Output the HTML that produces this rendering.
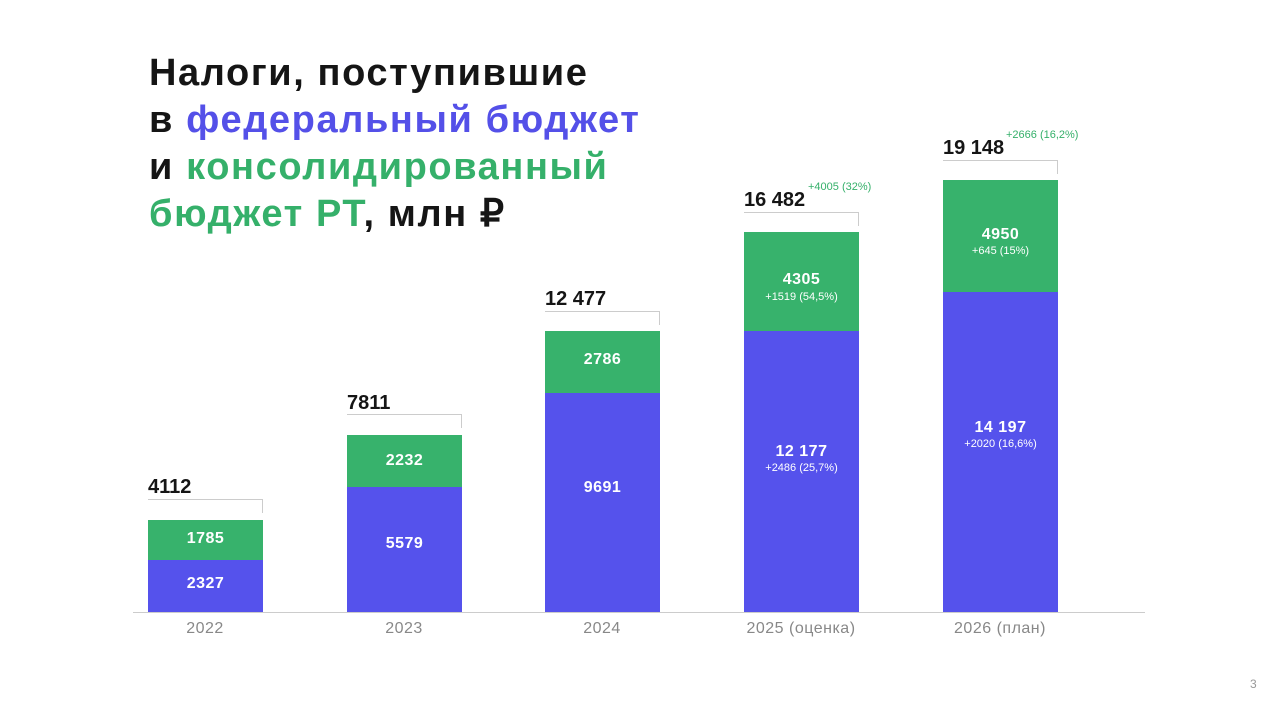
<!DOCTYPE html><html><head><meta charset="utf-8"><style>
body{margin:0;width:1280px;height:719px;background:#fff;position:relative;overflow:hidden;font-family:"Liberation Sans",sans-serif}
.t{position:absolute;left:149px;top:50px;font-size:38px;font-weight:bold;line-height:47px;color:#151515;letter-spacing:1.6px}
.b{color:#5450E8}.g{color:#35B06A}
.bar{position:absolute;width:115px}
.bl{background:#5552EC}.gr{background:#37B26C}
.v{position:absolute;width:115px;text-align:center;color:#fff;font-weight:bold;font-size:16px;letter-spacing:0.5px}
.s{position:absolute;width:115px;text-align:center;color:#fff;font-size:11px}
.tot{position:absolute;font-size:20px;font-weight:bold;color:#151515}
.inc{position:absolute;font-size:11px;color:#35B06A}
.br{position:absolute;width:114px;height:13px;border-top:1px solid #ccc;border-right:1px solid #ccc}
.x{position:absolute;width:160px;text-align:center;font-size:16px;color:#888;top:620px;letter-spacing:0.5px}
</style></head><body>
<div class="t">Налоги, поступившие<br>в <span class="b">федеральный бюджет</span><br>и <span class="g">консолидированный</span><br><span class="g">бюджет РТ</span>, млн ₽</div>
<div style="position:absolute;left:133px;top:612px;width:1012px;height:1px;background:#ccc"></div>

<div class="bar gr" style="left:148px;top:520px;height:40px"></div><div class="bar bl" style="left:148px;top:560px;height:52px"></div>
<div class="bar gr" style="left:347px;top:435px;height:52px"></div><div class="bar bl" style="left:347px;top:487px;height:125px"></div>
<div class="bar gr" style="left:545px;top:331px;height:62px"></div><div class="bar bl" style="left:545px;top:393px;height:219px"></div>
<div class="bar gr" style="left:744px;top:232px;height:99px"></div><div class="bar bl" style="left:744px;top:331px;height:281px"></div>
<div class="bar gr" style="left:943px;top:180px;height:112px"></div><div class="bar bl" style="left:943px;top:292px;height:320px"></div>

<div class="v" style="left:148px;top:530px">1785</div><div class="v" style="left:148px;top:575px">2327</div>
<div class="v" style="left:347px;top:452px">2232</div><div class="v" style="left:347px;top:535px">5579</div>
<div class="v" style="left:545px;top:351px">2786</div><div class="v" style="left:545px;top:479px">9691</div>
<div class="v" style="left:744px;top:271px">4305</div><div class="s" style="left:744px;top:291px">+1519 (54,5%)</div>
<div class="v" style="left:744px;top:443px">12 177</div><div class="s" style="left:744px;top:462px">+2486 (25,7%)</div>
<div class="v" style="left:943px;top:226px">4950</div><div class="s" style="left:943px;top:245px">+645 (15%)</div>
<div class="v" style="left:943px;top:419px">14 197</div><div class="s" style="left:943px;top:438px">+2020 (16,6%)</div>

<div class="br" style="left:148px;top:499px"></div><div class="tot" style="left:148px;top:476px">4112</div>
<div class="br" style="left:347px;top:414px"></div><div class="tot" style="left:347px;top:392px">7811</div>
<div class="br" style="left:545px;top:311px"></div><div class="tot" style="left:545px;top:288px">12 477</div>
<div class="br" style="left:744px;top:212px"></div><div class="tot" style="left:744px;top:189px">16 482</div><div class="inc" style="left:808px;top:181px">+4005 (32%)</div>
<div class="br" style="left:943px;top:160px"></div><div class="tot" style="left:943px;top:137px">19 148</div><div class="inc" style="left:1006px;top:129px">+2666 (16,2%)</div>

<div class="x" style="left:125px">2022</div><div class="x" style="left:324px">2023</div><div class="x" style="left:522px">2024</div><div class="x" style="left:721px">2025 (оценка)</div><div class="x" style="left:920px">2026 (план)</div>
<div style="position:absolute;left:1250px;top:677px;font-size:12px;color:#999">3</div>
</body></html>
